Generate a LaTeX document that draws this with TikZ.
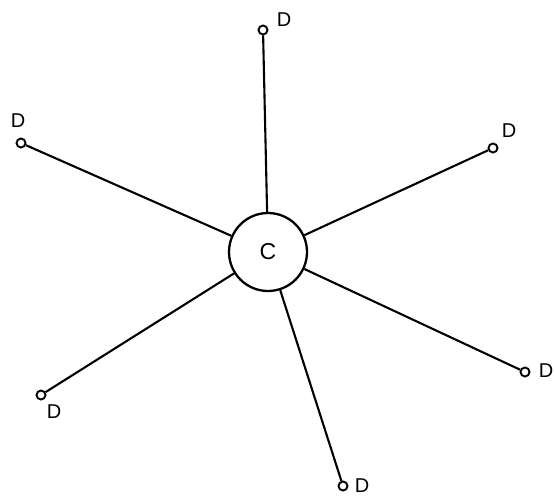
\documentclass[tikz,border=0pt]{standalone}
\usepackage{fontspec}
\setmainfont{Liberation Sans}
\begin{document}
\begin{tikzpicture}[x=1pt,y=-1pt,
  hub/.style={draw,circle,line width=2.3pt,minimum size=78pt,inner sep=0pt,font=\fontsize{23}{23}\selectfont},
  term/.style={draw,circle,line width=1.9pt,minimum size=9pt,inner sep=0pt},
  lab/.style={font=\fontsize{20}{20}\selectfont,inner sep=0pt},
  link/.style={line width=2.1pt}]
\useasboundingbox (0,0) rectangle (554,496);
\node[hub] (c) at (268,252) {C};
\node[term] (d1) at (263,30) {};
\node[term] (d2) at (21,143) {};
\node[term] (d3) at (493,148) {};
\node[term] (d4) at (525,372) {};
\node[term] (d5) at (343,486) {};
\node[term] (d6) at (41,395) {};
\node[lab] (l1) at (284,20) {D};
\node[lab] (l2) at (18,121) {D};
\node[lab] (l3) at (509,131) {D};
\node[lab] (l4) at (546,371) {D};
\node[lab] (l5) at (362,486) {D};
\node[lab] (l6) at (54,412) {D};
\foreach \d in {d1,d2,d3,d4,d5,d6} \draw[link] (c) -- (\d);
\end{tikzpicture}
\end{document}
